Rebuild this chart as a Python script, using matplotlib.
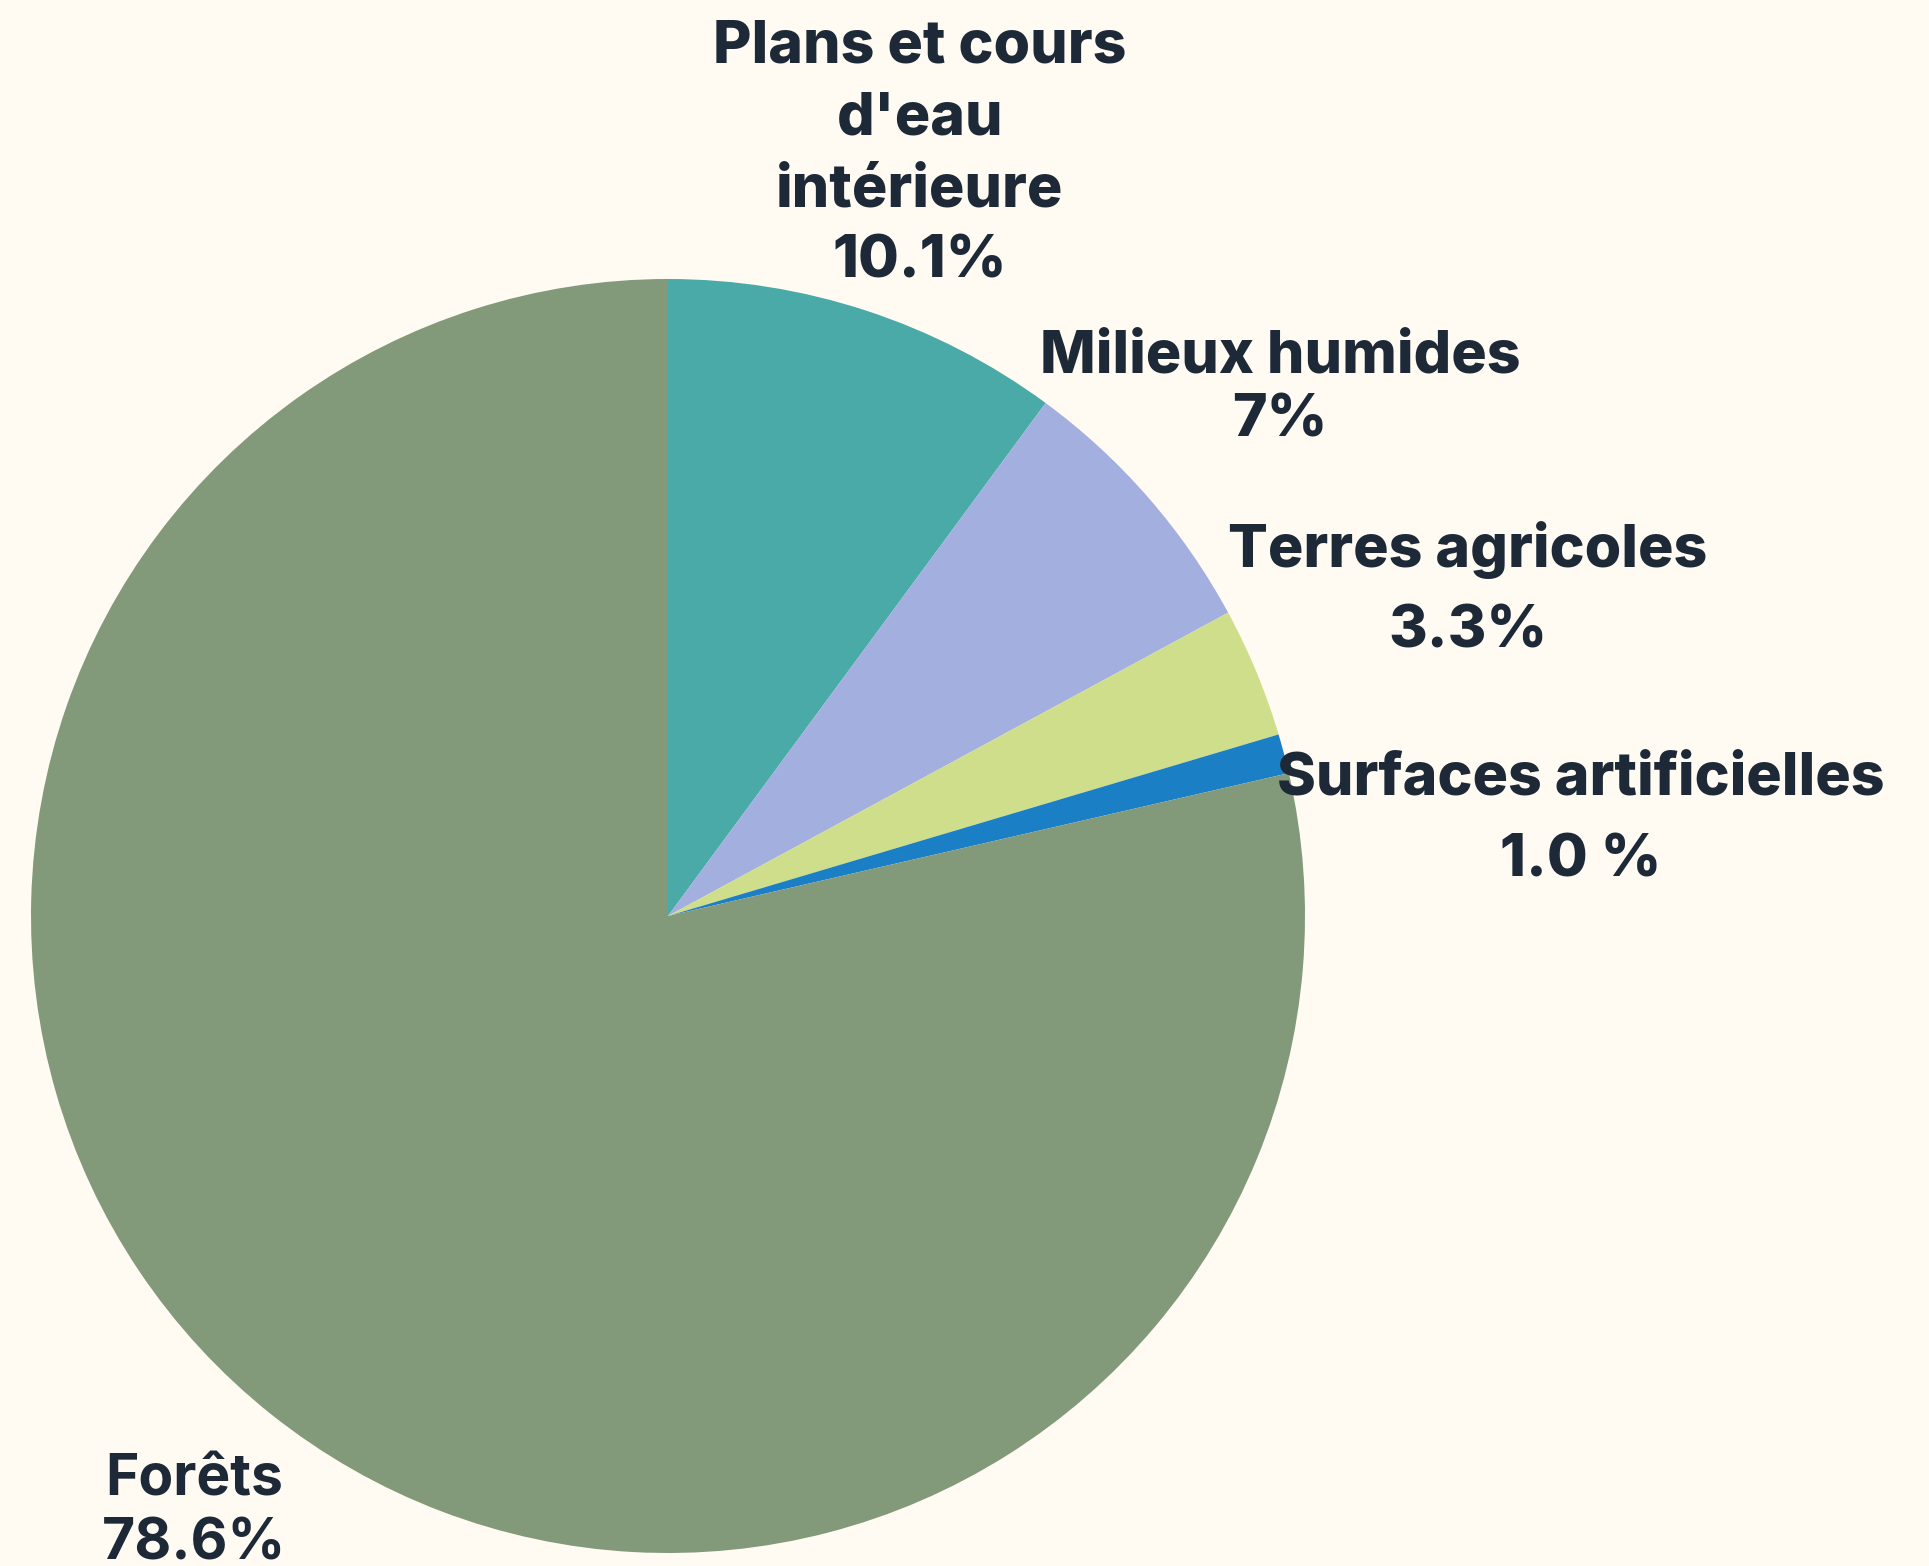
import matplotlib
matplotlib.use("Agg")
import matplotlib.pyplot as plt

categories = ["Plans et cours d'eau intérieure", "Milieux humides", "Terres agricoles",
              "Surfaces artificielles", "Forêts"]
values = [10.1, 7.0, 3.3, 1.0, 78.6]
colors = ["#4AAAA8", "#A3AFDF", "#CFDE8A", "#1A7FC4", "#82997A"]
label_texts = ["Plans et cours\nd'eau\nintérieure", "Milieux humides", "Terres agricoles",
               "Surfaces artificielles", "Forêts"]
pct_texts = ["10.1%", "7%", "3.3%", "1.0 %", "78.6%"]

W, H = 1929, 1566
bg = "#FFFBF3"
tc = "#1E2938"

fig = plt.figure(figsize=(W / 100, H / 100), dpi=100, facecolor=bg)
ax = fig.add_axes([0, 0, 1, 1])
ax.set_facecolor(bg)

ax.pie(values, colors=colors, startangle=90, counterclock=False,
       center=(668, H - 916), radius=637, frame=True,
       wedgeprops=dict(linewidth=0))
ax.set_xlim(0, W)
ax.set_ylim(0, H)
ax.axis("off")

fam = ["Inter", "DejaVu Sans"]
sizes = [42.5, 42.5, 42.5, 42.5, 41]
weights = ["heavy", "heavy", "heavy", "heavy", "bold"]
# label positions (pixel coords from top)
label_pos = [(920, 119), (1280, 357), (1468, 550), (1581, 779), (194, 1480)]
pct_pos = [(920, 262), (1280, 421), (1468, 632), (1581, 861), (194, 1544)]
for i, lab in enumerate(label_texts):
    x, y = label_pos[i]
    ax.text(x, H - y, lab, ha="center", va="center", fontsize=sizes[i], fontweight=weights[i],
            color=tc, family=fam, linespacing=1.4)
    px, py = pct_pos[i]
    ax.text(px, H - py, pct_texts[i], ha="center", va="center", fontsize=sizes[i],
            fontweight=weights[i], color=tc, family=fam)

fig.savefig("out.png", dpi=100, facecolor=bg)
